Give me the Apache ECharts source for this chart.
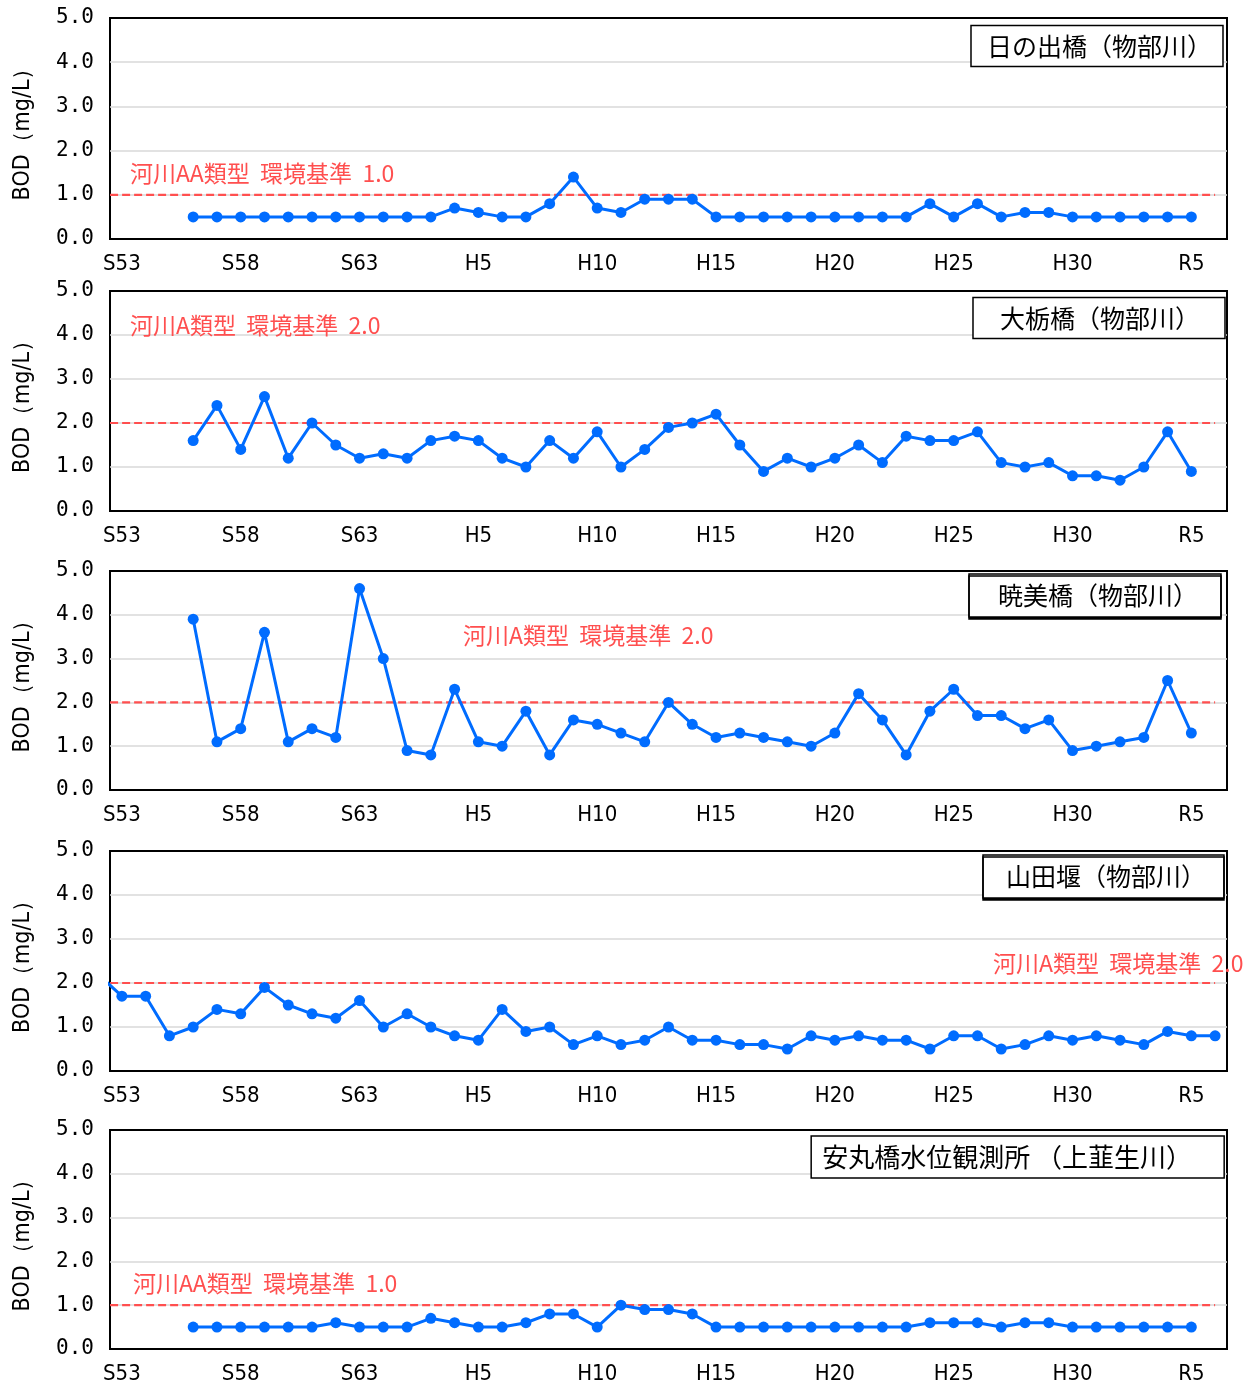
<!DOCTYPE html>
<html>
<head>
<meta charset="utf-8">
<script src="https://cdn.jsdelivr.net/npm/echarts@6/dist/echarts.min.js"></script>
<style>html,body{margin:0;padding:0;background:#fff;}#c{width:1253px;height:1389px;}</style>
</head>
<body>
<div id="c"></div>
<script>
// Year categories (S53 .. R6)
const categories = ['S53','S54','S55','S56','S57','S58','S59','S60','S61','S62','S63',
  'H1','H2','H3','H4','H5','H6','H7','H8','H9','H10','H11','H12','H13','H14','H15',
  'H16','H17','H18','H19','H20','H21','H22','H23','H24','H25','H26','H27','H28','H29','H30',
  'R1','R2','R3','R4','R5','R6'];
const yTicks = [0, 1, 2, 3, 4, 5];

// BOD annual values (mg/L)
const hinode = [null,null,null,0.5,0.5,0.5,0.5,0.5,0.5,0.5,0.5,0.5,0.5,0.5,
  0.7,0.6,0.5,0.5,0.8,1.4,0.7,0.6,0.9,0.9,0.9,
  0.5,0.5,0.5,0.5,0.5,0.5,0.5,0.5,0.5,
  0.8,0.5,0.8,0.5,0.6,0.6,0.5,0.5,0.5,0.5,0.5,0.5,null];
const otochi = [null,null,null,1.6,2.4,1.4,2.6,1.2,2.0,1.5,1.2,1.3,1.2,1.6,1.7,1.6,1.2,1.0,1.6,1.2,1.8,1.0,1.4,
  1.9,2.0,2.2,1.5,0.9,1.2,1.0,1.2,1.5,1.1,1.7,1.6,1.6,1.8,1.1,1.0,1.1,0.8,0.8,0.7,1.0,1.8,0.9,null];
const gyobi = [null,null,null,3.9,1.1,1.4,3.6,1.1,1.4,1.2,4.6,3.0,0.9,0.8,2.3,1.1,1.0,1.8,0.8,1.6,1.5,1.3,1.1,
  2.0,1.5,1.2,1.3,1.2,1.1,1.0,1.3,2.2,1.6,0.8,1.8,2.3,1.7,1.7,1.4,1.6,0.9,1.0,1.1,1.2,2.5,1.3,null];
const yamadaPrev = 2.2; // value just before S53 (clipped at the left edge)
const yamada = [1.7,1.7,0.8,1.0,1.4,1.3,1.9,1.5,1.3,1.2,1.6,1.0,1.3,1.0,0.8,0.7,1.4,0.9,1.0,0.6,0.8,0.6,0.7,
  1.0,0.7,0.7,0.6,0.6,0.5,0.8,0.7,0.8,0.7,0.7,0.5,0.8,0.8,0.5,0.6,0.8,0.7,0.8,0.7,0.6,0.9,0.8,0.8];
const yasumaru = [null,null,null,0.5,0.5,0.5,0.5,0.5,0.5,0.6,0.5,0.5,0.5,0.7,0.6,0.5,0.5,0.6,0.8,0.8,0.5,1.0,0.9,0.9,0.8,
  0.5,0.5,0.5,0.5,0.5,0.5,0.5,0.5,0.5,0.6,0.6,0.6,0.5,0.6,0.6,0.5,0.5,0.5,0.5,0.5,0.5,null];

const stationNames = ['日の出橋（物部川）','大栃橋（物部川）','暁美橋（物部川）','山田堰（物部川）','安丸橋水位観測所 （上韮生川）'];
const standards = [1.0, 2.0, 2.0, 2.0, 1.0];
const standardLabels = ['河川AA類型  環境基準  1.0','河川A類型  環境基準  2.0','河川A類型  環境基準  2.0','河川A類型  環境基準  2.0','河川AA類型  環境基準  1.0'];

const panelData = [hinode, otochi, gyobi, yamada, yasumaru];

// Layout (styles only)
const gridTops = [18, 291, 571, 851, 1130];
const gridHeights = [221, 220, 219, 220, 219];
const boxRight = [30, 28, 32, 29, 29];
const boxTop = [25, 297, 574, 855, 1136];
const boxPad = [[8.5,11,8.5,16],[8.5,25,8.5,27],[9,23,9,29],[9,18,9,23],[8,32,8,11]];
const boxFont = [25,25,25,25,26];
const boxShadow = [0,0,2,2,0];
const stdLabelPos = [[130,161.5],[130,313.5],[463,623.5],[993,951.5],[133,1271.5]];

const BLUE = '#006cff';
const RED = '#ff4f4f';
const NARROW = "'Liberation Sans Narrow','DejaVu Sans Condensed',sans-serif";
const CJK = "'Noto Sans CJK JP',sans-serif";

const grid = [], xAxis = [], yAxis = [], series = [], title = [];
panelData.forEach((arr, p) => {
  grid.push({left:110, right:26, top:gridTops[p], height:gridHeights[p], show:true, borderColor:'#000', borderWidth:2, backgroundColor:'#fff'});
  xAxis.push({type:'category', gridIndex:p, data:categories, boundaryGap:true,
    axisLine:{show:true, lineStyle:{color:'#000', width:2}}, axisTick:{show:false},
    axisLabel:{interval:4, color:'#000', fontSize:22, fontFamily:NARROW, margin:14},
    splitLine:{show:false}});
  xAxis.push({type:'value', gridIndex:p, min:-0.5, max:categories.length-0.5, show:false});
  yAxis.push({type:'value', gridIndex:p, min:yTicks[0], max:yTicks[yTicks.length-1], interval:1,
    name:'BOD（mg/L）', nameLocation:'middle', nameGap:75,
    nameTextStyle:{color:'#000', fontSize:23, fontFamily:NARROW},
    axisLine:{show:false}, axisTick:{show:false},
    axisLabel:{color:'#000', fontSize:21, fontFamily:"'DejaVu Sans Mono',monospace", margin:16, padding:[0,0,6,0], formatter:v=>v.toFixed(1)},
    splitLine:{show:true, showMinLine:false, showMaxLine:false, lineStyle:{color:'#d9d9d9', width:1.5}}});
  // standard line
  series.push({type:'line', xAxisIndex:p*2+1, yAxisIndex:p, data:[[-1, standards[p]],[categories.length-1, standards[p]]],
    symbol:'none', silent:true, clip:true, z:2,
    lineStyle:{color:RED, width:2.2, type:[8,4]}});
  // measured data
  let pts = arr.map((v,i)=>[i,v]).filter(d=>d[1]!=null);
  if (p === 3) pts = [[-1, yamadaPrev]].concat(pts);
  series.push({type:'line', xAxisIndex:p*2+1, yAxisIndex:p, data:pts, clip:true, z:3,
    symbol:'circle', symbolSize:11, showAllSymbol:true,
    itemStyle:{color:BLUE}, lineStyle:{color:BLUE, width:3}});
  // station box
  title.push({text:stationNames[p], right:boxRight[p], top:boxTop[p], padding:boxPad[p],
    backgroundColor:'#fff', borderColor:'#000', borderWidth:1.5,
    shadowColor: boxShadow[p] ? '#000' : 'transparent', shadowBlur:0, shadowOffsetX:0, shadowOffsetY:boxShadow[p],
    textStyle:{color:'#000', fontSize:boxFont[p], fontWeight:'normal', fontFamily:CJK, lineHeight:boxFont[p]}});
  // standard label
  title.push({text:standardLabels[p], left:stdLabelPos[p][0], top:stdLabelPos[p][1], padding:0,
    textStyle:{color:RED, fontSize:23, fontWeight:'normal', fontFamily:CJK, lineHeight:23}});
});

const chart = echarts.init(document.getElementById('c'), null, {renderer:'canvas'});
chart.setOption({animation:false, backgroundColor:'#fff', title, grid, xAxis, yAxis, series});
</script>
</body>
</html>
